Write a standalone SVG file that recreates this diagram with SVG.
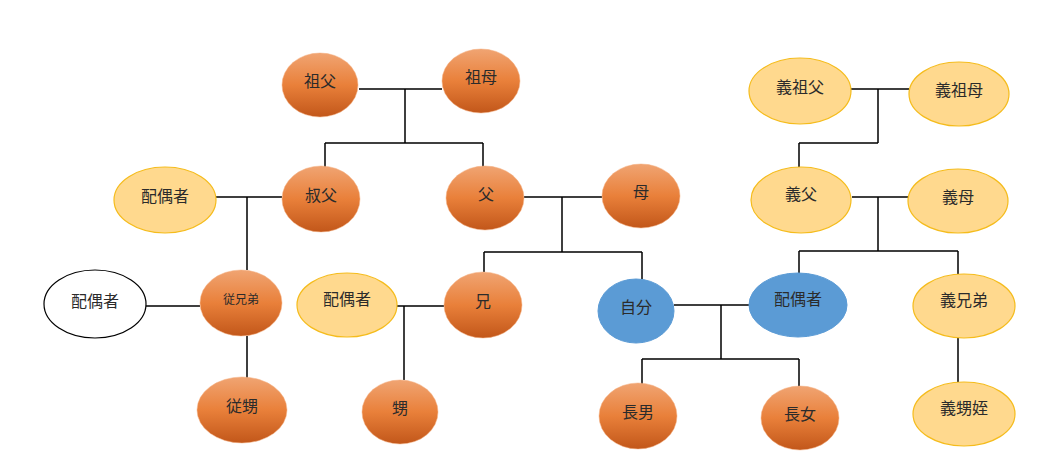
<svg xmlns="http://www.w3.org/2000/svg" width="1059" height="464" viewBox="0 0 1059 464">
<defs>
<linearGradient id="og" x1="0" y1="0" x2="0" y2="1">
<stop offset="0" stop-color="#F0A472"/>
<stop offset="0.5" stop-color="#E9803A"/>
<stop offset="1" stop-color="#C2571A"/>
</linearGradient>
<style>
.o{fill:url(#og);stroke:#F4B183;stroke-width:0.5}
.y{fill:#FFD98E;stroke:#F5BC1C;stroke-width:1.2}
.b{fill:#5B9BD5;stroke:#5B9BD5;stroke-width:1}
.w{fill:#FFFFFF;stroke:#000000;stroke-width:1.2}
text{font-family:"Noto Sans CJK JP","Noto Sans CJK SC",sans-serif;font-size:16px;fill:#2B2B2B;text-anchor:middle}
.s{font-size:12px}
.c{fill:none;stroke:#000000;stroke-width:1.5}
</style>
</defs>
<rect width="1059" height="464" fill="#FFFFFF"/>
<g id="connectors">
<path class="c" d="M359 89H442M405 89V143M325 143H483M325 143V167M483 143V167"/>
<path class="c" d="M216 197H282M247 197V270M146 306H200M247 336V378"/>
<path class="c" d="M397 306H444M404 306V380"/>
<path class="c" d="M524 197H602M562 197V252M484 252H642M484 252V272M642 252V279"/>
<path class="c" d="M674 305H749M721 305V359M642 359H799M642 359V384M799 359V387"/>
<path class="c" d="M850 89H909M878 89V143M799 143H878M799 143V167"/>
<path class="c" d="M852 197H908M878 197V251M799 251H958M799 251V274M958 251V274M958 338V382"/>
</g>
<g id="sofu"><ellipse class="o" cx="320" cy="85" rx="38" ry="32"/><text x="320" y="87">祖父</text></g>
<g id="sobo"><ellipse class="o" cx="481" cy="81" rx="39" ry="32"/><text x="481" y="83">祖母</text></g>
<g id="oji-haiguusha"><ellipse class="y" cx="165" cy="200" rx="51" ry="33"/><text x="165" y="202">配偶者</text></g>
<g id="oji"><ellipse class="o" cx="321" cy="199" rx="39" ry="33"/><text x="321" y="201">叔父</text></g>
<g id="chichi"><ellipse class="o" cx="485" cy="198" rx="39" ry="32"/><text x="486" y="200">父</text></g>
<g id="haha"><ellipse class="o" cx="641" cy="196" rx="39" ry="32"/><text x="641" y="198">母</text></g>
<g id="itoko-haiguusha"><ellipse class="w" cx="95" cy="304" rx="51" ry="34"/><text x="95" y="307">配偶者</text></g>
<g id="itoko"><ellipse class="o" cx="241" cy="303" rx="41" ry="33"/><text class="s" x="241" y="304">従兄弟</text></g>
<g id="ani-haiguusha"><ellipse class="y" cx="347" cy="305" rx="50" ry="32"/><text x="347" y="305">配偶者</text></g>
<g id="ani"><ellipse class="o" cx="483" cy="305" rx="39" ry="33"/><text x="483" y="307">兄</text></g>
<g id="jibun"><ellipse class="b" cx="636" cy="311" rx="38" ry="32"/><text x="636" y="313">自分</text></g>
<g id="haiguusha"><ellipse class="b" cx="798" cy="305" rx="49" ry="32"/><text x="798" y="305">配偶者</text></g>
<g id="itoko-oi"><ellipse class="o" cx="242" cy="410" rx="45" ry="33"/><text x="242" y="412">従甥</text></g>
<g id="oi"><ellipse class="o" cx="400" cy="412" rx="38" ry="32"/><text x="400" y="414">甥</text></g>
<g id="chounan"><ellipse class="o" cx="638" cy="416" rx="39" ry="33"/><text x="638" y="418">長男</text></g>
<g id="choujo"><ellipse class="o" cx="800" cy="418" rx="39" ry="32"/><text x="800" y="420">長女</text></g>
<g id="gi-sofu"><ellipse class="y" cx="800" cy="91" rx="51" ry="33"/><text x="800" y="93">義祖父</text></g>
<g id="gi-sobo"><ellipse class="y" cx="959" cy="94" rx="50" ry="32"/><text x="959" y="96">義祖母</text></g>
<g id="gi-chichi"><ellipse class="y" cx="801" cy="200" rx="50" ry="33"/><text x="801" y="200">義父</text></g>
<g id="gi-haha"><ellipse class="y" cx="958" cy="201" rx="50" ry="32"/><text x="958" y="203">義母</text></g>
<g id="gi-kyoudai"><ellipse class="y" cx="964" cy="306" rx="51" ry="32"/><text x="964" y="306">義兄弟</text></g>
<g id="gi-oimei"><ellipse class="y" cx="964" cy="414" rx="51" ry="32"/><text x="964" y="414">義甥姪</text></g>
</svg>
